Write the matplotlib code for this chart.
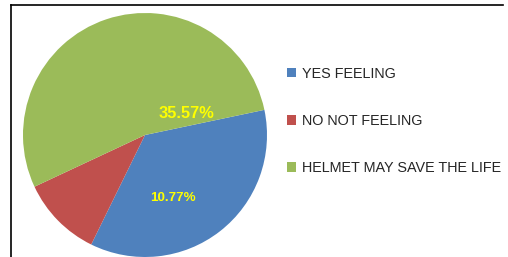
import matplotlib
matplotlib.use("Agg")
import matplotlib.pyplot as plt
from matplotlib.lines import Line2D
from matplotlib.patches import Patch

# data
categories = ["YES FEELING", "NO NOT FEELING", "HELMET MAY SAVE THE LIFE"]
shares = [35.57, 10.77, 53.66]
colors = ["#4F81BD", "#C0504D", "#9BBB59"]
# the labels as they appear in the source (shifted one slice)
label_texts = ["35.57%", "10.77%"]

plt.rcParams["font.family"] = ["Liberation Sans", "DejaVu Sans"]

fig = plt.figure(figsize=(5.08, 2.57), dpi=100)
ax = fig.add_axes([23 / 508, 0.0, 244 / 508, 244 / 257])

ax.pie(shares, colors=colors, startangle=11.9, counterclock=False,
       wedgeprops={"linewidth": 0})
ax.set_xlim(-1, 1)
ax.set_ylim(-1, 1)
ax.set_aspect("equal")

ax.text(0.336, 0.18, label_texts[0], color="#FFFF00", fontsize=11.8,
        fontweight="bold", ha="center", va="center")
ax.text(0.23, -0.516, label_texts[1], color="#FFFF00", fontsize=9.6,
        fontweight="bold", ha="center", va="center")

handles = [Patch(facecolor=c, edgecolor="none") for c in colors]
fig.legend(handles, categories, loc="center left",
           bbox_to_anchor=(287 / 508, 1 - 121 / 257), frameon=False,
           fontsize=10.4, labelspacing=2.3, handlelength=0.62,
           handleheight=0.62, handletextpad=0.45, borderpad=0,
           borderaxespad=0, labelcolor="#262626")

# chart frame (top and left edge only, as in the source crop)
fig.add_artist(Line2D([11 / 508, 503 / 508], [1 - 5 / 257, 1 - 5 / 257],
                      transform=fig.transFigure, color="black", lw=1.2))
fig.add_artist(Line2D([11 / 508, 11 / 508], [0, 1 - 5 / 257],
                      transform=fig.transFigure, color="black", lw=1.2))

fig.savefig("out.png", dpi=100)
